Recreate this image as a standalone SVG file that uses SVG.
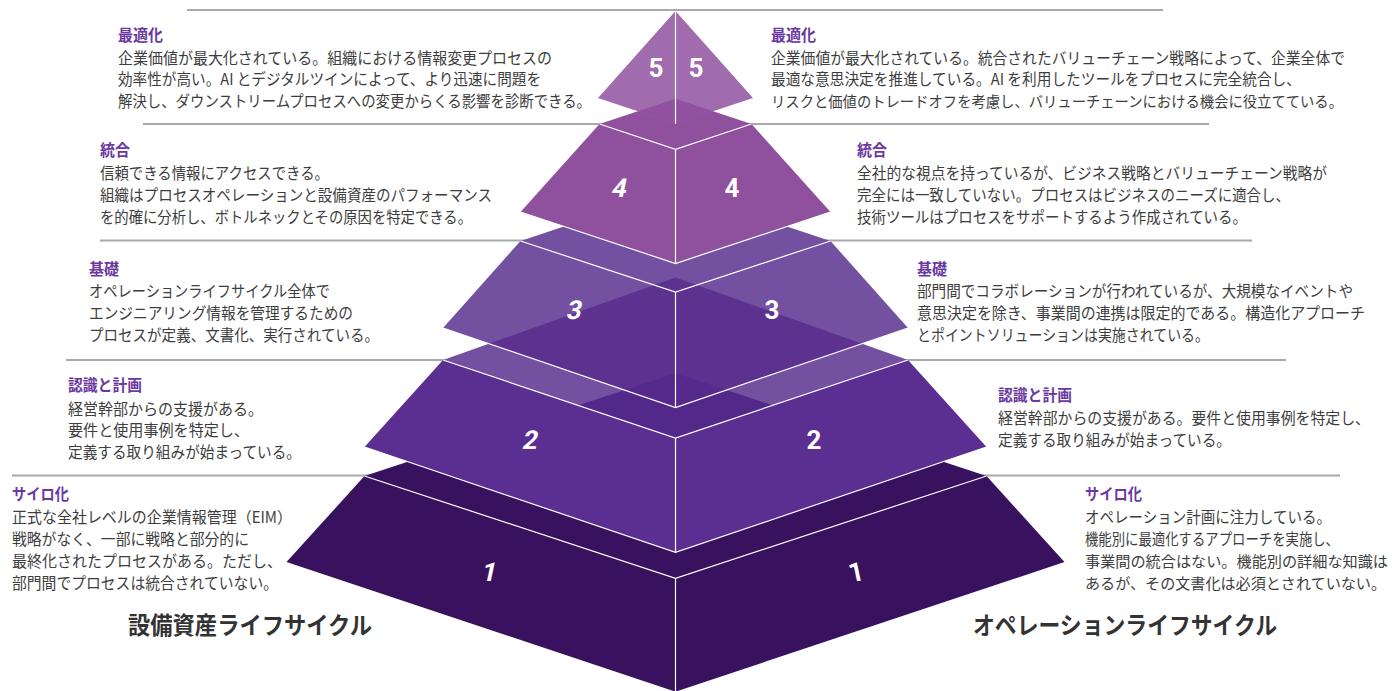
<svg xmlns="http://www.w3.org/2000/svg" width="1392" height="691" viewBox="0 0 1392 691">
<defs>
<style>
.t{font-family:"Noto Sans CJK JP","Noto Sans",sans-serif;font-size:15.5px;fill:#3d3d3d}
.s{font-size:15px}
.h{font-family:"Noto Sans CJK JP","Noto Sans",sans-serif;font-size:15.5px;font-weight:700;fill:#6a38a0}
.big{font-family:"Noto Sans CJK JP","Noto Sans",sans-serif;font-size:24px;font-weight:700;fill:#333333}
.d{font-family:Roboto,"Noto Sans",sans-serif;font-size:26px;font-weight:700;fill:#ffffff;text-anchor:middle}
.sep{stroke:#a7a9ac;stroke-width:2;fill:none}
.w{stroke:#ffffff;stroke-width:1.2;fill:none}
</style>
<clipPath id="cT1"><polygon points="364.5,476 675.5,373.3 986.5,476 675.5,578.3"/></clipPath>
<clipPath id="cT2"><polygon points="443,360 675.5,277.5 908,360 675.5,438"/></clipPath>
<clipPath id="cS3"><polygon points="675.5,189.3 520.5,241 443,328 675.5,407.5 908,328 830.5,241"/></clipPath>
<clipPath id="cT4"><polygon points="599.5,124 675.5,98.7 751.5,124 675.5,149.3"/></clipPath>
</defs>
<rect width="1392" height="691" fill="#ffffff"/>

<g id="connectors">
<line class="sep" x1="187" y1="10" x2="1163" y2="10"/>
<line class="sep" x1="143" y1="124" x2="1209" y2="124"/>
<line class="sep" x1="100" y1="240.5" x2="1252" y2="240.5"/>
<line class="sep" x1="66" y1="360" x2="1286" y2="360"/>
<line class="sep" x1="12" y1="475.5" x2="1340" y2="475.5"/>
</g>

<g id="layer-1">
<polygon points="675.5,373.3 364.5,476 286.5,562 675.5,691.7 1064.5,562 986.5,476" fill="#39125f"/>
<polyline class="w" points="364.5,476 675.5,578.3 986.5,476"/>
<line class="w" x1="675.5" y1="578.3" x2="675.5" y2="691.7"/>
</g>

<g id="layer-2">
<polygon points="443,360 675.5,438 908,360 986.5,447 675.5,552.3 364.5,447" fill="#5b2f91"/>
<polygon points="443,360 675.5,277.5 908,360 675.5,438" fill="#7350a0"/>
<g clip-path="url(#cT2)"><polygon points="364.5,476 675.5,373.3 986.5,476 675.5,578.3" fill="#52288a"/></g>
<polyline class="w" points="443,360 675.5,438 908,360"/>
<line class="w" x1="675.5" y1="438" x2="675.5" y2="552.3"/>
<polyline class="w" points="364.5,447 675.5,552.3 986.5,447"/>
</g>

<g id="layer-3">
<polygon points="675.5,189.3 520.5,241 443,328 675.5,407.5 908,328 830.5,241" fill="#7350a0"/>
<g clip-path="url(#cS3)">
<polygon points="443,360 675.5,277.5 908,360 675.5,438" fill="#5c3190"/>
<g clip-path="url(#cT2)"><polygon points="364.5,476 675.5,373.3 986.5,476 675.5,578.3" fill="#56298c"/></g>
</g>
<polyline class="w" points="520.5,241 675.5,292 830.5,241"/>
<line class="w" x1="675.5" y1="292" x2="675.5" y2="407.5"/>
<polyline class="w" points="443,328 675.5,407.5 908,328"/>
</g>

<g id="layer-4">
<polygon points="675.5,98.7 599.5,124 520.5,212 675.5,263.5 830.5,212 751.5,124" fill="#8f519e"/>
<polyline class="w" points="599.5,124 675.5,149.3 751.5,124"/>
<line class="w" x1="675.5" y1="149.3" x2="675.5" y2="263.5"/>
<polyline class="w" points="520.5,212 675.5,263.5 830.5,212"/>
</g>

<g id="layer-5">
<polygon points="675.5,11 598,98 675.5,123.8 753,98" fill="#a06cae"/>
<g clip-path="url(#cT4)"><polygon points="675.5,11 598,98 675.5,123.8 753,98" fill="#9151a0"/></g>
<line class="w" x1="675.5" y1="11" x2="675.5" y2="123.8"/>
</g>

<g id="digits">
<text class="d" x="656" y="77">5</text>
<text class="d" x="696" y="77">5</text>
<text class="d" transform="translate(618,197) skewX(-12)">4</text>
<text class="d" x="732" y="197">4</text>
<text class="d" transform="translate(573,319) skewX(-12)">3</text>
<text class="d" x="772" y="319">3</text>
<text class="d" transform="translate(529,449) skewX(-12)">2</text>
<text class="d" x="814" y="449">2</text>
<text class="d" transform="translate(488,581) skewX(-12)">1</text>
<text class="d" transform="translate(858,581) skewX(12)">1</text>
</g>

<g id="left-5">
<text class="h" x="118" y="40.5" textLength="45" lengthAdjust="spacingAndGlyphs">最適化</text>
<text class="t" x="118" y="63.5" textLength="434" lengthAdjust="spacingAndGlyphs">企業価値が最大化されている。組織における情報変更プロセスの</text>
<text class="t" x="118" y="85.2" textLength="423" lengthAdjust="spacingAndGlyphs">効率性が高い。AI とデジタルツインによって、より迅速に問題を</text>
<text class="t" x="118" y="106.9" textLength="473" lengthAdjust="spacingAndGlyphs">解決し、ダウンストリームプロセスへの変更からくる影響を診断できる。</text>
</g>

<g id="left-4">
<text class="h" x="100" y="156.3" textLength="30" lengthAdjust="spacingAndGlyphs">統合</text>
<text class="t" x="100" y="178.8" textLength="229" lengthAdjust="spacingAndGlyphs">信頼できる情報にアクセスできる。</text>
<text class="t" x="100" y="200.8" textLength="392" lengthAdjust="spacingAndGlyphs">組織はプロセスオペレーションと設備資産のパフォーマンス</text>
<text class="t" x="100" y="222.8" textLength="372" lengthAdjust="spacingAndGlyphs">を的確に分析し、ボトルネックとその原因を特定できる。</text>
</g>

<g id="left-3">
<text class="h" x="89" y="274.8" textLength="30" lengthAdjust="spacingAndGlyphs">基礎</text>
<text class="t" x="89" y="297" textLength="241" lengthAdjust="spacingAndGlyphs">オペレーションライフサイクル全体で</text>
<text class="t" x="89" y="319" textLength="264" lengthAdjust="spacingAndGlyphs">エンジニアリング情報を管理するための</text>
<text class="t" x="89" y="341" textLength="290" lengthAdjust="spacingAndGlyphs">プロセスが定義、文書化、実行されている。</text>
</g>

<g id="left-2">
<text class="h" x="68" y="391.3" textLength="74" lengthAdjust="spacingAndGlyphs">認識と計画</text>
<text class="t" x="68" y="414.5" textLength="195" lengthAdjust="spacingAndGlyphs">経営幹部からの支援がある。</text>
<text class="t" x="68" y="436.3" textLength="181" lengthAdjust="spacingAndGlyphs">要件と使用事例を特定し、</text>
<text class="t" x="68" y="458.1" textLength="233" lengthAdjust="spacingAndGlyphs">定義する取り組みが始まっている。</text>
</g>

<g id="left-1">
<text class="h" x="12" y="499.8" textLength="57" lengthAdjust="spacingAndGlyphs">サイロ化</text>
<text class="t" x="12" y="523.4" textLength="280" lengthAdjust="spacingAndGlyphs">正式な全社レベルの企業情報管理（EIM）</text>
<text class="t" x="12" y="545.1" textLength="237" lengthAdjust="spacingAndGlyphs">戦略がなく、一部に戦略と部分的に</text>
<text class="t" x="12" y="566.8" textLength="270" lengthAdjust="spacingAndGlyphs">最終化されたプロセスがある。ただし、</text>
<text class="t" x="12" y="588.5" textLength="266" lengthAdjust="spacingAndGlyphs">部門間でプロセスは統合されていない。</text>
</g>

<g id="right-5">
<text class="h" x="771" y="40.5" textLength="45" lengthAdjust="spacingAndGlyphs">最適化</text>
<text class="t" x="771" y="63.5" textLength="574" lengthAdjust="spacingAndGlyphs">企業価値が最大化されている。統合されたバリューチェーン戦略によって、企業全体で</text>
<text class="t" x="771" y="85.2" textLength="530" lengthAdjust="spacingAndGlyphs">最適な意思決定を推進している。AI を利用したツールをプロセスに完全統合し、</text>
<text class="t s" x="771" y="106.9" textLength="572" lengthAdjust="spacingAndGlyphs">リスクと価値のトレードオフを考慮し、バリューチェーンにおける機会に役立てている。</text>
</g>

<g id="right-4">
<text class="h" x="857" y="156.3" textLength="30" lengthAdjust="spacingAndGlyphs">統合</text>
<text class="t" x="857" y="178.8" textLength="470" lengthAdjust="spacingAndGlyphs">全社的な視点を持っているが、ビジネス戦略とバリューチェーン戦略が</text>
<text class="t" x="857" y="200.8" textLength="433" lengthAdjust="spacingAndGlyphs">完全には一致していない。プロセスはビジネスのニーズに適合し、</text>
<text class="t" x="857" y="222.8" textLength="390" lengthAdjust="spacingAndGlyphs">技術ツールはプロセスをサポートするよう作成されている。</text>
</g>

<g id="right-3">
<text class="h" x="917" y="274.8" textLength="30" lengthAdjust="spacingAndGlyphs">基礎</text>
<text class="t" x="917" y="297" textLength="436" lengthAdjust="spacingAndGlyphs">部門間でコラボレーションが行われているが、大規模なイベントや</text>
<text class="t" x="917" y="319" textLength="448" lengthAdjust="spacingAndGlyphs">意思決定を除き、事業間の連携は限定的である。構造化アプローチ</text>
<text class="t" x="917" y="341" textLength="292" lengthAdjust="spacingAndGlyphs">とポイントソリューションは実施されている。</text>
</g>

<g id="right-2">
<text class="h" x="998" y="400.8" textLength="74" lengthAdjust="spacingAndGlyphs">認識と計画</text>
<text class="t" x="998" y="424" textLength="372" lengthAdjust="spacingAndGlyphs">経営幹部からの支援がある。要件と使用事例を特定し、</text>
<text class="t" x="998" y="445.8" textLength="233" lengthAdjust="spacingAndGlyphs">定義する取り組みが始まっている。</text>
</g>

<g id="right-1">
<text class="h" x="1085" y="499.8" textLength="57" lengthAdjust="spacingAndGlyphs">サイロ化</text>
<text class="t" x="1085" y="523.4" textLength="246" lengthAdjust="spacingAndGlyphs">オペレーション計画に注力している。</text>
<text class="t" x="1085" y="545.1" textLength="254" lengthAdjust="spacingAndGlyphs">機能別に最適化するアプローチを実施し、</text>
<text class="t s" x="1085" y="566.8" textLength="303" lengthAdjust="spacingAndGlyphs">事業間の統合はない。機能別の詳細な知識は</text>
<text class="t s" x="1085" y="588.5" textLength="301" lengthAdjust="spacingAndGlyphs">あるが、その文書化は必須とされていない。</text>
</g>

<g id="axis-labels">
<text class="big" x="128" y="634" textLength="244" lengthAdjust="spacingAndGlyphs">設備資産ライフサイクル</text>
<text class="big" x="973" y="634" textLength="304" lengthAdjust="spacingAndGlyphs">オペレーションライフサイクル</text>
</g>
</svg>
